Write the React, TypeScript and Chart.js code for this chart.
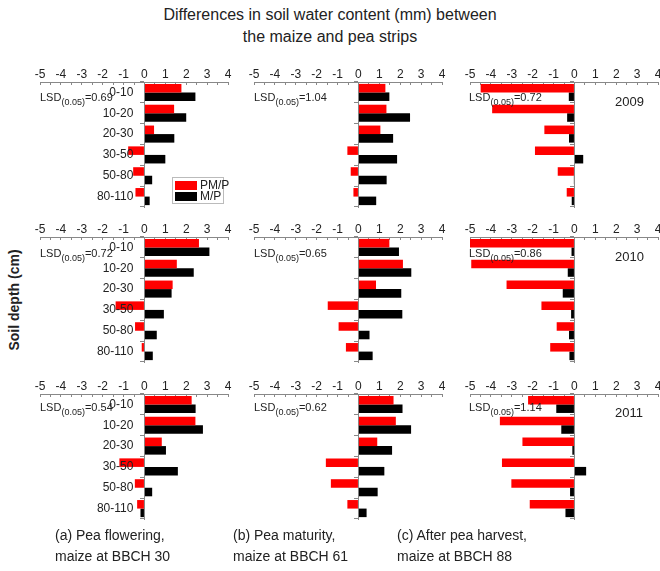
import React, { useEffect, useRef } from 'react';
import { Chart, registerables } from 'chart.js';

Chart.register(...registerables);

const FONT = '"Liberation Sans", Arial, sans-serif';

const depths = ['0-10', '10-20', '20-30', '30-50', '50-80', '80-110'];
const xMin = -5;
const xMax = 4;
const labelAnchor = -0.53; // x value where depth labels end (right-aligned)
const years = ['2009', '2010', '2011'];
const seriesNames = ['PM/P', 'M/P'];
const stageLine1 = ['(a) Pea flowering,', '(b) Pea maturity,', '(c) After pea harvest,'];
const stageLine2 = ['maize at BBCH 30', 'maize at BBCH 61', 'maize at BBCH 88'];
const lsd2009 = ['0.69', '1.04', '0.72'];
const lsd2010 = ['0.72', '0.65', '0.86'];
const lsd2011 = ['0.54', '0.62', '1.14'];

// 2009
const pmpA2009 = [1.77, 1.42, 0.46, -0.78, -0.54, -0.43];
const mpA2009 = [2.44, 2.0, 1.43, 1.0, 0.37, 0.25];
const pmpB2009 = [1.29, 1.34, 1.05, -0.53, -0.37, -0.24];
const mpB2009 = [1.48, 2.47, 1.66, 1.85, 1.35, 0.85];
const pmpC2009 = [-4.49, -3.94, -1.44, -1.89, -0.8, -0.37];
const mpC2009 = [-0.27, -0.35, -0.26, 0.42, -0.03, -0.13];
// 2010
const pmpA2010 = [2.61, 1.55, 1.35, -1.38, -0.45, -0.13];
const mpA2010 = [3.11, 2.36, 1.3, 0.93, 0.59, 0.4];
const pmpB2010 = [1.48, 2.13, 0.84, -1.47, -0.95, -0.6];
const mpB2010 = [1.94, 2.53, 2.05, 2.1, 0.53, 0.68];
const pmpC2010 = [-5.0, -4.94, -3.25, -1.58, -0.85, -1.16];
const mpC2010 = [-0.14, -0.32, -0.56, -0.16, -0.26, -0.24];
// 2011
const pmpA2011 = [2.26, 2.44, 0.83, -1.2, -0.46, -0.35];
const mpA2011 = [2.45, 2.8, 1.03, 1.6, 0.37, -0.19];
const pmpB2011 = [1.68, 1.79, 0.9, -1.56, -1.32, -0.53];
const mpB2011 = [2.11, 2.52, 1.61, 1.24, 0.92, 0.39];
const pmpC2011 = [-2.22, -3.57, -2.49, -3.47, -3.02, -2.14];
const mpC2011 = [-0.87, -0.63, -0.1, 0.56, -0.21, -0.43];

const panels = [
  [[pmpA2009, mpA2009], [pmpB2009, mpB2009], [pmpC2009, mpC2009]],
  [[pmpA2010, mpA2010], [pmpB2010, mpB2010], [pmpC2010, mpC2010]],
  [[pmpA2011, mpA2011], [pmpB2011, mpB2011], [pmpC2011, mpC2011]],
];
const lsdRows = [lsd2009, lsd2010, lsd2011];

// layout (pixels)
const colLeft = [40, 254, 470];
const rowTop = [82, 237, 394];
const areaW = 188;
const areaH = 125;
const padL = 14;
const padR = 14;
const padT = 4;
const axisH = 20;
const padB = 14;
const canvasW = areaW + padL + padR;
const canvasH = areaH + padT + axisH + padB;
const lsdY = [97, 253, 407];
const lsdX = [40, 254, 469];
const yearY = [102, 257, 413];

export default function App() {
  const refs = useRef<(HTMLCanvasElement | null)[]>([]);

  useEffect(() => {
    const charts: Chart[] = [];
    for (let r = 0; r < 3; r++) {
      for (let c = 0; c < 3; c++) {
        const cv = refs.current[r * 3 + c];
        if (!cv) continue;
        const [pmp, mp] = panels[r][c];
        const scales: any = {
          x: {
            type: 'linear',
            position: 'top',
            min: xMin,
            max: xMax,
            afterFit: (s: any) => {
              s.height = axisH;
            },
            ticks: {
              stepSize: 0.5,
              autoSkip: false,
              maxRotation: 0,
              padding: 3,
              color: '#222',
              font: { family: FONT, size: 12 },
              callback: (v: any) => (Number.isInteger(Number(v)) ? String(v) : ''),
            },
            grid: { drawOnChartArea: false, drawTicks: true, tickLength: -3, color: '#888' },
            border: { color: '#888', width: 1 },
          },
          y: {
            type: 'category',
            position: { x: 0 },
            offset: true,
            grid: { offset: true, drawOnChartArea: false, drawTicks: true, tickLength: 4, color: '#888' },
            border: { color: '#888', width: 1 },
            ticks: { display: false },
          },
        };
        if (c === 0) {
          scales.yl = {
            type: 'category',
            axis: 'y',
            labels: depths,
            position: { x: labelAnchor },
            offset: true,
            grid: { display: false },
            border: { display: false },
            ticks: {
              autoSkip: false,
              padding: 0,
              color: '#222',
              z: 1,
              font: { family: FONT, size: 12 },
            },
          };
        }
        const ch = new Chart(cv, {
          type: 'bar',
          data: {
            labels: depths,
            datasets: [
              {
                label: seriesNames[0],
                data: pmp,
                backgroundColor: '#ff0000',
                borderWidth: 0,
                categoryPercentage: 0.82,
                barPercentage: 1.0,
                yAxisID: 'y',
              },
              {
                label: seriesNames[1],
                data: mp,
                backgroundColor: '#000000',
                borderWidth: 0,
                categoryPercentage: 0.82,
                barPercentage: 1.0,
                yAxisID: 'y',
              },
            ],
          },
          options: {
            indexAxis: 'y',
            responsive: false,
            animation: false,
            events: [],
            layout: { padding: { left: padL, right: padR, top: padT, bottom: padB } },
            plugins: { legend: { display: false }, tooltip: { enabled: false }, title: { display: false } },
            scales,
          },
        } as any);
        charts.push(ch);
      }
    }
    return () => charts.forEach((ch) => ch.destroy());
  }, []);

  const canvases = [];
  for (let r = 0; r < 3; r++) {
    for (let c = 0; c < 3; c++) {
      const idx = r * 3 + c;
      canvases.push(
        <canvas
          key={'cv' + idx}
          ref={(el) => {
            refs.current[idx] = el;
          }}
          width={canvasW}
          height={canvasH}
          style={{
            position: 'absolute',
            left: colLeft[c] - padL,
            top: rowTop[r] - axisH - padT,
            width: canvasW,
            height: canvasH,
          }}
        />
      );
    }
  }

  const lsdLabels = [];
  for (let r = 0; r < 3; r++) {
    for (let c = 0; c < 3; c++) {
      lsdLabels.push(
        <div
          key={'lsd' + r + c}
          style={{
            position: 'absolute',
            left: lsdX[c],
            top: lsdY[r] - 8,
            height: 16,
            lineHeight: '16px',
            fontSize: 11,
            color: '#222',
            whiteSpace: 'nowrap',
          }}
        >
          LSD
          <span style={{ fontSize: 9, position: 'relative', top: 4 }}>(0.05)</span>={lsdRows[r][c]}
        </div>
      );
    }
  }

  return (
    <div
      style={{
        position: 'absolute',
        left: 0,
        top: 0,
        width: 660,
        height: 571,
        overflow: 'hidden',
        background: '#fff',
        fontFamily: FONT,
      }}
    >
      <div
        style={{
          position: 'absolute',
          left: 0,
          top: 4,
          width: 660,
          textAlign: 'center',
          fontSize: 16,
          lineHeight: '22px',
          color: '#222',
        }}
      >
        Differences in soil water content (mm) between
        <br />
        the maize and pea strips
      </div>
      <div
        style={{
          position: 'absolute',
          left: 14,
          top: 300,
          transform: 'translate(-50%, -50%) rotate(-90deg)',
          fontSize: 14,
          fontWeight: 'bold',
          whiteSpace: 'nowrap',
          color: '#222',
        }}
      >
        Soil depth (cm)
      </div>
      {canvases}
      {lsdLabels}
      {years.map((y, r) => (
        <div
          key={'yr' + y}
          style={{
            position: 'absolute',
            left: 615,
            top: yearY[r] - 8,
            lineHeight: '16px',
            fontSize: 13,
            color: '#222',
          }}
        >
          {y}
        </div>
      ))}
      <div
        style={{
          position: 'absolute',
          left: 172,
          top: 177,
          width: 50,
          height: 25,
          border: '1px solid #bbb',
          fontSize: 12,
          color: '#222',
          background: '#fff',
        }}
      >
        <div style={{ position: 'absolute', left: 2, top: 3, width: 22, height: 9, background: '#ff0000' }} />
        <div style={{ position: 'absolute', left: 27, top: 0, lineHeight: '14px' }}>{seriesNames[0]}</div>
        <div style={{ position: 'absolute', left: 2, top: 14, width: 22, height: 9, background: '#000000' }} />
        <div style={{ position: 'absolute', left: 27, top: 11, lineHeight: '14px' }}>{seriesNames[1]}</div>
      </div>
      {stageLine1.map((s, i) => (
        <div
          key={'st' + i}
          style={{
            position: 'absolute',
            left: [55, 233, 397][i],
            top: 525,
            fontSize: 14,
            lineHeight: '21px',
            color: '#222',
            whiteSpace: 'nowrap',
          }}
        >
          {s}
          <br />
          {stageLine2[i]}
        </div>
      ))}
    </div>
  );
}
